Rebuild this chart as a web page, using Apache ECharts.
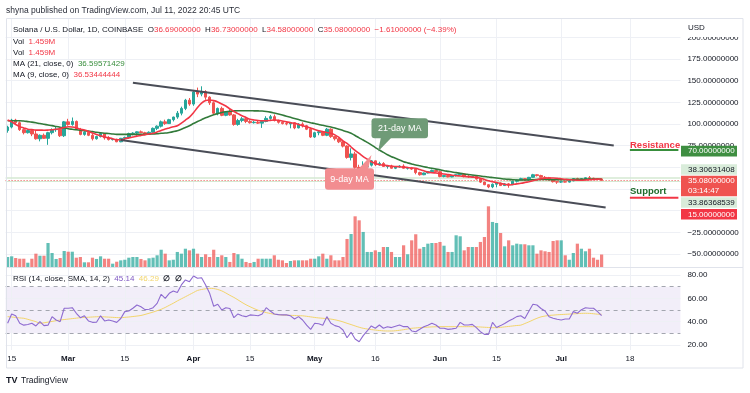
<!DOCTYPE html>
<html><head><meta charset="utf-8">
<script src="https://cdn.jsdelivr.net/npm/echarts@6/dist/echarts.min.js"></script>
<style>html,body{margin:0;padding:0;background:#fff}#c{width:750px;height:393px}</style>
</head><body><div id="c"></div>
<script>
// ---------- data ----------
const firstDay = [2022, 1, 14];   // Feb 14 2022 (month is 0-based)
const dayCount = 167;             // visible days incl. empty right margin
// [open, high, low, close]
const candles = [
[92.5,98,90,96.5],[96.5,106,95,104.5],[104.5,106,99,101.5],[101.5,103,92,93.5],[93.5,95,88,90],
[90,93.5,89,92.5],[92.5,93,86,88.5],[88.5,93,82,83],[83,88,80,87],[87,89,83,83.5],
[83.5,91,76,90],[90,95,88,93.5],[93.5,97,91,94],[94,96,85,86.5],[86.5,103.5,85,102.5],
[102.5,106,98,99.5],[99.5,107.5,98,103],[103,104,93,94],[94,95.5,87,88],[88,91.5,86.5,90.5],
[90.5,91,86,87],[87,89,81,83],[83,86.5,82,85.5],[85.5,90,84.5,89],[89,89.5,82,84],
[84,86,81,82],[82,83.5,81,82.5],[82.5,83,79,79.5],[79.5,84,79,83.5],[83.5,85.5,81.5,84.5],
[84.5,90,83,89],[89,90.5,87,89.5],[89.5,91.5,86.5,91],[91,92.5,89.5,90],[90,91,87.5,88.5],
[88.5,91.5,88,90.5],[90.5,96,90,95],[95,98.5,93,97.5],[97.5,104,96,102.5],[102.5,105,99,100.5],
[100.5,106,100,105],[105,108.5,103,108],[108,115,106,112.5],[112.5,120,110,118],[118,129,116,127.5],
[127.5,130,121,123],[123,138,121,137],[137,142,131,134.5],[134.5,143.5,132,137.5],[137.5,139,128,131],
[131,132,122,124.5],[124.5,126,111,112.5],[112.5,119,110,118],[118,120,109,110],[110,115,109,114],
[114,117,109.5,110.5],[110.5,111.5,98,99.5],[99.5,106,98,104],[104,108,102,106],[106,108.5,101,103],
[103,104.5,100.5,101.5],[101.5,103.5,100.5,102],[102,104,100,101],[101,104.5,95.5,103],[103,109,102,106.5],
[106.5,110.5,105,108.5],[108.5,111,103,104],[104,105,100.5,102],[102,103,99.5,100.5],[100.5,102,98.5,100],
[100,102.5,95,101.5],[101.5,102,94,95.5],[95.5,101,95,100],[100,102,96,98],[98,99,93,94],
[94,96,84,85],[85,91,84,90],[90,92,87,91],[91,92,86,87],[87,95.5,86,94],
[94,95,84,85.5],[85.5,86.5,81,83],[83,84,78,79.5],[79.5,80,73,74.5],[74.5,75.5,60,61.5],
[61.5,72,58,65.5],[65.5,68,46,50],[50,53,38,45.5],[45.5,57,44,50.5],[50.5,55,47,52.5],
[52.5,58.5,51,57.5],[57.5,58,51.5,53],[53,56.5,52,54.5],[54.5,56,50.5,51],[51,52.5,48.5,51.5],
[51.5,53,48.5,49],[49,51.5,48,50.5],[50.5,52.5,49.5,51.5],[51.5,53.5,48.5,49],[49,50.5,47.5,49.5],
[49.5,50.5,47,48],[48,48.5,42,44],[44,45,40.5,41.5],[41.5,44,41,43.5],[43.5,45.5,43,45],
[45,47.5,44.5,46.5],[46.5,47,44,45],[45,46.5,38.5,39.5],[39.5,41,38.5,40.5],[40.5,41,38.5,39],
[39,41,38.5,40.5],[40.5,42,39.5,41.5],[41.5,43.5,40.5,42.5],[42.5,43,38.5,40],[40,41,38,39],
[39,40.5,38.5,39.5],[39.5,40,36,36.5],[36.5,37.5,32,33],[33,33.5,29.5,30],[30,30.5,26,27.5],
[27.5,31.5,26,30.5],[30.5,33,27,32],[32,32.5,28.5,29],[29,32,28.5,31],[31,32,26.5,30],
[30,34.5,29.5,34],[34,36,32.5,35.5],[35.5,38,35,37],[37,37.5,34.5,35.5],[35.5,39,35,38.5],
[38.5,42.5,38,41.5],[41.5,42,39.5,40.5],[40.5,41.5,38,38.5],[38.5,40,37.5,38],[38,39,35,35.5],
[35.5,36,32.5,33.5],[33.5,34.5,31,33],[33,34.5,32,33.5],[33.5,34,32.5,33],[33,35,32.5,34.5],
[34.5,37.5,34,37],[37,38,34.5,36],[36,37.5,35,37],[37,38.5,36,38],[38,40,36.5,37.5],
[37.5,38,36.5,37],[37,37.5,36,36.69],[36.69,36.73,34.58,35.08]
];
// volume, millions
const volume = [
1.17,1.25,1.05,0.97,0.97,0.5,0.97,1.56,1.32,1.32,
2.81,1.64,0.94,1.05,1.87,1.79,1.79,1.09,1.17,0.55,
0.55,1.09,0.94,1.25,0.97,0.97,0.39,0.62,0.78,0.85,
1.09,1.17,1.17,0.94,0.78,1.02,1.09,1.37,2.02,1.56,
0.78,0.85,1.76,1.56,2.14,1.95,2.14,1.56,1.17,1.49,
1.17,2.02,1.17,1.37,1.17,0.59,1.64,1.49,0.97,0.59,
0.47,0.59,0.97,0.97,0.97,0.97,1.37,0.85,0.78,0.47,
0.7,0.78,0.78,0.78,0.78,0.97,0.97,1.25,1.56,0.97,
1.37,0.78,0.78,1.17,3.28,3.86,5.93,5.46,4.1,1.76,
1.76,1.95,1.76,2.34,2.34,1.76,1.17,1.17,2.54,1.49,
3.12,3.83,2.14,2.34,2.73,2.81,2.81,2.93,2.49,1.76,
1.76,3.71,3.59,1.95,2.34,2.34,2.34,2.93,3.51,7.1,
5.27,5.15,3.98,2.42,3.12,2.54,2.73,2.66,2.66,2.54,
2.54,1.56,1.95,1.84,1.76,3.04,3.12,3.12,1.37,0.85,
1.64,2.73,2.14,1.84,2.14,1.09,0.85,1.459
];
const ma21 = [
103.8,103.8,103.8,103.8,103.4,102.8,102.2,101.4,100.5,99.7,
98.9,98.1,97.2,96.3,95.3,94.5,93.9,93.3,92.8,92.4,
91.8,91.2,90.5,89.9,89.4,89,88.5,88.1,88,88,
88,88,88,88,88.1,88.2,88.5,88.8,89.3,89.6,
90.3,91.2,92.3,94,96,98,100.5,102.8,105,107.2,
109,110.6,112,113.2,114.1,114.7,115.1,115.3,115.3,115.3,
115.3,115.2,115.1,115,114.5,113.7,112.6,111.5,110.3,109,
107.7,106.4,105.1,103.8,102.6,101.5,100.5,99.4,98.5,97.5,
96.5,95.3,94,92.5,91,89.3,86.7,84,81.6,78.8,
76,72.8,70,67.3,64.6,62.3,60.5,58.5,56.5,55.2,
54,52.8,51.8,50.8,49.8,48.9,48,47.2,46.2,45.4,
44.6,43.9,43.2,42.4,41.8,41.2,40.6,40,39.4,38.9,
38.3,37.7,37.1,36.5,36.1,35.8,35.5,35.4,35.4,35.5,
35.7,35.9,36,36,35.9,35.8,35.7,35.7,35.8,35.9,
36.1,36.2,36.3,36.4,36.5,36.5,36.6,36.6
];
const ma9 = [
104.6,102.5,99.5,97,95.5,94,93.5,93,93,92.8,
93,93.3,93.9,94.8,96,96.9,96.5,95.5,94,93,
91.5,89.5,87.8,86.5,85,84,83,81.8,81.8,83,
84,85,86,86.8,87.7,88.5,89.3,90.8,92.5,94.2,
95.5,96.8,98,101,104.5,108,113,119,124,127,
127.7,127,125.5,123,120.7,117.5,114.5,112,109.5,107.5,
105.4,104.6,104,103.8,103.8,104.2,104.6,104.3,103.5,102.5,
101.5,100.8,99.5,98,96.9,95.3,93.7,92.3,91.2,90.2,
89.3,87.5,84.5,80.5,77.7,73.5,69.5,66.2,62.5,59.5,
56.5,54.5,53,52.7,52,51.5,51,50.7,50.3,49.8,
49.3,48.9,47.5,46,44.5,43.8,43.5,43,42.3,41.7,
41,40.4,40,39.5,39.2,38.8,38.5,37.5,36,34.5,
33.5,32.5,31.5,30.5,29.6,30.3,31,31.6,32.5,33.5,
34.6,35.8,36.8,37.5,37.8,37.8,37.4,36.8,36.2,35.7,
35.4,35.2,35.2,35.4,35.8,36.1,36.4,36.53
];
const rsi = [
38.6,46.6,45,38.6,37,37.5,38.6,36.3,40,36.6,
37,44.3,41.4,40,51.5,51.5,52,47.2,43.4,45,
40.6,39.4,39.5,45,40.6,41.4,40.5,39.4,42.7,48.6,
49.1,51.5,54.3,52.8,50.3,50.7,52,55.7,63.5,60,
64.3,66.3,65,71.5,75.8,74.3,79.2,77.2,77.7,71.5,
64.3,53.2,54.9,50,52,51.3,43.4,46.6,45,44.3,
45.8,45.5,45,46.6,52,49.1,46.6,46,45.8,45.8,
45,42.3,44.3,41.4,37,33.4,38.6,38.2,37,44.3,
38.6,36.6,35.7,32.8,26.2,30.9,25.1,22.8,28,32,
36.3,34.3,37.1,34.3,35.7,34.9,36,37.1,35.7,35.7,
32,31.4,33.5,35.7,37,38.6,37.1,34.3,34.3,33.4,
33.8,34.3,39.4,37.1,37.1,37.7,34.9,31.4,29.1,29.1,
39.4,35,36.6,38.5,40.5,42.3,44.3,45,42.7,49,
54.9,54.3,51.3,49.1,44.3,43,42,41.4,42.3,42.3,
48.6,47.2,50.3,52,51.5,51.5,48.6,45.14
];
const rsiMa = [
44.3,44,43.6,43.2,42.9,42,41,40,38.6,39,
39.6,40.2,40.8,41.4,41.8,42.2,42.6,43,43.4,43.6,
43.8,44,44.2,44.3,44.1,43.9,43.7,43.5,43.4,43.7,
44,44.4,44.8,45.3,46.2,47.2,48.2,49.4,50.6,52.2,
54,55.8,57.8,59.6,61.4,63.2,65,66.8,67.6,68.2,
68.6,68.4,67.6,66.4,64.6,62.6,60.8,58.7,56.5,54.5,
52.8,51.2,49.8,48.7,47.8,47,46.4,46,45.7,45.5,
45.4,45.3,45.1,45,44.6,44.1,43.6,43.2,42.9,42.6,
42.2,41.6,40.8,39.8,38.6,37.5,36.3,35.2,34.3,33.7,
33.2,32.8,32.4,32.1,32,32,32.2,32.6,33.1,33.7,
34.3,34.6,34.9,35.1,35.3,35.5,35.6,35.7,35.7,35.7,
35.7,35.7,35.7,35.7,35.7,35.7,35.6,35.4,35.2,35,
34.8,34.8,35.1,35.5,35.9,36.3,36.7,37,38.4,39.8,
41.4,42.9,44.1,44.8,45.3,45.6,45.9,46.1,46.3,46.5,
46.7,46.9,47.1,47.2,47.1,46.8,46.4,46.29
];
const tickDates  = ['2022-02-15','2022-03-01','2022-03-15','2022-04-01','2022-04-15','2022-05-01','2022-05-16','2022-06-01','2022-06-15','2022-07-01','2022-07-18'];
const tickLabels = ['15','Mar','15','Apr','15','May','16','Jun','15','Jul','18'];
const priceGridTicks = [-50,-25,0,25,50,75,100,125,150,175,200];
const priceLabelTicks = [-50,-25,75,100,125,150,175,200];
const rsiTicks = [20,40,60,80];
const rsiLevels = [30,50,70];
const channelUpper = [['2022-03-17',147.6],['2022-07-14',75.1]];
const channelLower = [['2022-03-14',81.6],['2022-07-12',3.8]];
const resistanceLine = [['2022-07-18',70],['2022-07-30',70]];
const supportLine = [['2022-07-18',15],['2022-07-30',15]];
const lastPrice = 35.08;
const bandHigh = 38.30631408, bandLow = 33.86368539;

// ---------- chart ----------
const FONT = '"Liberation Sans", Arial, sans-serif';
const UP = '#26a69a', DOWN = '#ef5350';
const TXT = '#131722';
const dates = [];
for (let i = 0; i < dayCount; i++) {
  const d = new Date(Date.UTC(firstDay[0], firstDay[1], firstDay[2] + i));
  dates.push(d.toISOString().slice(0, 10));
}
const kData = candles.map(c => [c[0], c[3], c[2], c[1]]);
const volData = volume.map((v, i) => ({
  value: v,
  itemStyle: { color: candles[i][3] >= candles[i][0] ? 'rgba(38,166,154,0.72)' : 'rgba(239,83,80,0.72)' }
}));
const nulls = candles.map(() => null);
const minus = s => s.replace('-', '\u2212');
const gridLineStyle = { color: '#eef0f5', width: 1, type: 'solid' };

function txt(x, y, text, st) {
  return { type: 'text', x: x, y: y, z: 100, silent: true,
    style: Object.assign({ text: text, fill: TXT, fontSize: 8, fontFamily: FONT, verticalAlign: 'middle', align: 'left' }, st || {}) };
}
function rich(x, y, text, richMap) {
  return { type: 'text', x: x, y: y, z: 100, silent: true,
    style: { text: text, fontSize: 8, fontFamily: FONT, verticalAlign: 'middle', align: 'left', rich: richMap } };
}
const rs = c => ({ fill: c, fontSize: 8, fontFamily: FONT });
function marker(y, h, bg, fg, lines) {
  const els = [{ type: 'rect', z: 90, silent: true, shape: { x: 681, y: y, width: 56, height: h }, style: { fill: bg } }];
  lines.forEach((t, k) => els.push(txt(688, y + 5.3 + k * 10, t, { fill: fg })));
  return els;
}

const graphics = [].concat(
  [
    { type: 'rect', z: 60, silent: true, shape: { x: 682, y: 19, width: 60, height: 18 }, style: { fill: '#fff' } },
    { type: 'rect', z: 95, silent: true, shape: { x: 6.5, y: 18.5, width: 736.5, height: 349.5 }, style: { fill: 'none', stroke: '#e0e3eb', lineWidth: 1 } },
    { type: 'line', z: 95, silent: true, shape: { x1: 6, y1: 267.5, x2: 743, y2: 267.5 }, style: { stroke: '#e0e3eb', lineWidth: 1 } },
    txt(6, 11, 'shyna published on TradingView.com, Jul 11, 2022 20:45 UTC', { fontSize: 8.5, fill: '#2a2e39' }),
    txt(688, 28, 'USD', { fontSize: 8 }),
    rich(13, 29.5, '{t|Solana / U.S. Dollar, 1D, COINBASE  O}{r|36.69000000}{t|  H}{r|36.73000000}{t|  L}{r|34.58000000}{t|  C}{r|35.08000000}{r|  \u22121.61000000 (\u22124.39%)}', { t: rs(TXT), r: rs('#f23645') }),
    rich(13, 41.5, '{t|Vol  }{r|1.459M}', { t: rs(TXT), r: rs('#f23645') }),
    rich(13, 52.5, '{t|Vol  }{r|1.459M}', { t: rs(TXT), r: rs('#f23645') }),
    rich(13, 63.5, '{t|MA (21, close, 0)  }{g|36.59571429}', { t: rs(TXT), g: rs('#388e3c') }),
    rich(13, 75, '{t|MA (9, close, 0)  }{r|36.53444444}', { t: rs(TXT), r: rs('#f23645') }),
    rich(13, 278.5, '{t|RSI (14, close, SMA, 14, 2)  }{p|45.14}{t|  }{y|46.29}{t|  }{b|\u2205  \u2205}', { t: rs(TXT), p: rs('#7e57c2'), y: rs('#f2d56b'), b: { fill: TXT, fontSize: 8, fontWeight: 'bold', fontFamily: FONT } }),
    txt(630, 145, 'Resistance', { fill: '#f23645', fontSize: 9.5, fontWeight: 'bold' }),
    txt(630, 191.5, 'Support', { fill: '#1e6b2a', fontSize: 9.5, fontWeight: 'bold' }),
    // callouts
    { type: 'polygon', z: 80, silent: true, shape: { points: [[381, 137], [392, 137], [378, 151.5]] }, style: { fill: '#6f9b77' } },
    { type: 'rect', z: 80, silent: true, shape: { x: 371.5, y: 118.3, width: 56.5, height: 20, r: 3 }, style: { fill: '#6f9b77' } },
    txt(399.7, 128.5, '21-day MA', { fill: '#fff', fontSize: 9, align: 'center' }),
    { type: 'polygon', z: 80, silent: true, shape: { points: [[358, 169.5], [368, 169.5], [371.5, 155]] }, style: { fill: '#f28d90' } },
    { type: 'rect', z: 80, silent: true, shape: { x: 325, y: 168.3, width: 49, height: 21.5, r: 3 }, style: { fill: '#f28d90' } },
    txt(349.5, 179.3, '9-day MA', { fill: '#fff', fontSize: 9, align: 'center' }),
    txt(6, 381, 'TV', { fontSize: 9, fontWeight: 'bold', fill: TXT }),
    txt(21, 381, 'TradingView', { fontSize: 8.5, fill: TXT })
  ],
  marker(145.7, 10.8, '#3e8e41', '#fff', ['70.00000000']),
  marker(164.3, 10.5, '#d9ecda', TXT, ['38.30631408']),
  marker(175.8, 20.5, '#ef5350', '#fff', ['35.08000000', '03:14:47']),
  marker(197.3, 10.5, '#d9ecda', TXT, ['33.86368539']),
  marker(209, 10.5, '#f23645', '#fff', ['15.00000000'])
);

const option = {
  animation: false,
  backgroundColor: '#fff',
  textStyle: { fontFamily: FONT },
  grid: [
    { left: 5.6, top: 18, width: 674.8, height: 249 },
    { left: 5.6, top: 267.5, width: 674.8, height: 82.5 }
  ],
  xAxis: [
    { type: 'category', gridIndex: 0, data: dates, boundaryGap: true,
      axisLine: { show: false }, axisTick: { show: false }, axisLabel: { show: false }, splitLine: { show: false } },
    { type: 'category', gridIndex: 1, data: dates, boundaryGap: true,
      axisLine: { show: false }, axisTick: { show: false }, splitLine: { show: false },
      axisLabel: { show: true, margin: 5, color: TXT, fontSize: 8, fontFamily: FONT, hideOverlap: false,
        interval: (idx, val) => tickDates.indexOf(val) >= 0,
        formatter: val => { const t = tickLabels[tickDates.indexOf(val)]; return /^\d+$/.test(t) ? t : '{b|' + t + '}'; },
        rich: { b: { fontWeight: 'bold', fontSize: 8, color: TXT, fontFamily: FONT } } } }
  ],
  yAxis: [
    { type: 'value', gridIndex: 0, position: 'right', min: -64.9, max: 222.26, scale: true,
      axisLine: { show: false }, axisTick: { show: false }, splitLine: { show: false },
      axisLabel: { customValues: priceLabelTicks, formatter: v => minus(v.toFixed(8)), color: TXT, fontSize: 8, fontFamily: FONT, margin: 7 } },
    { type: 'value', gridIndex: 0, min: 0, max: 29.13, show: false },
    { type: 'value', gridIndex: 1, position: 'right', min: 15.67, max: 86.48, scale: true,
      axisLine: { show: false }, axisTick: { show: false }, splitLine: { show: false },
      axisLabel: { customValues: rsiTicks, formatter: v => v.toFixed(2), color: TXT, fontSize: 8, fontFamily: FONT, margin: 7 } }
  ],
  series: [
    { name: 'grid0', type: 'line', xAxisIndex: 0, yAxisIndex: 0, data: nulls, symbol: 'none', silent: true, z: 0,
      markLine: { z: 0, silent: true, symbol: ['none', 'none'], label: { show: false }, lineStyle: gridLineStyle, animation: false,
        data: priceGridTicks.map(v => ({ yAxis: v })).concat(tickDates.map(d => ({ xAxis: d }))) } },
    { name: 'volume', type: 'bar', xAxisIndex: 0, yAxisIndex: 1, data: volData, barWidth: 3.2, z: 1, silent: true },
    { name: 'price', type: 'candlestick', xAxisIndex: 0, yAxisIndex: 0, data: kData, barWidth: 3, z: 2, silent: true,
      itemStyle: { color: UP, color0: DOWN, borderColor: UP, borderColor0: DOWN, borderWidth: 1 },
      markLine: { z: 1, silent: true, symbol: ['none', 'none'], label: { show: false }, animation: false,
        data: [
          { yAxis: bandHigh, lineStyle: { color: '#d5e9d2', width: 1.5, type: 'solid' } },
          { yAxis: bandLow, lineStyle: { color: '#d5e9d2', width: 1, type: 'solid' } },
          { yAxis: lastPrice, lineStyle: { color: '#ef5350', width: 1, type: [1, 2] } }
        ] } },
    { name: 'MA21', type: 'line', xAxisIndex: 0, yAxisIndex: 0, data: ma21, symbol: 'none', smooth: 0.3, z: 3, silent: true,
      lineStyle: { color: '#327a3a', width: 1.6 } },
    { name: 'MA9', type: 'line', xAxisIndex: 0, yAxisIndex: 0, data: ma9, symbol: 'none', smooth: 0.3, z: 3, silent: true,
      lineStyle: { color: '#f23645', width: 1.6 } },
    { name: 'upper', type: 'line', xAxisIndex: 0, yAxisIndex: 0, data: channelUpper, symbol: 'none', z: 4, silent: true,
      lineStyle: { color: '#4a4d57', width: 2 } },
    { name: 'lower', type: 'line', xAxisIndex: 0, yAxisIndex: 0, data: channelLower, symbol: 'none', z: 4, silent: true,
      lineStyle: { color: '#4a4d57', width: 2 } },
    { name: 'resistance', type: 'line', xAxisIndex: 0, yAxisIndex: 0, data: resistanceLine, symbol: 'none', z: 4, silent: true,
      lineStyle: { color: '#388e3c', width: 2 } },
    { name: 'support', type: 'line', xAxisIndex: 0, yAxisIndex: 0, data: supportLine, symbol: 'none', z: 4, silent: true,
      lineStyle: { color: '#f23645', width: 2 } },
    { name: 'grid1', type: 'line', xAxisIndex: 1, yAxisIndex: 2, data: nulls, symbol: 'none', silent: true, z: 0,
      markArea: { z: 0, silent: true, itemStyle: { color: 'rgba(126,87,194,0.1)' }, data: [[{ yAxis: rsiLevels[0] }, { yAxis: rsiLevels[2] }]] },
      markLine: { z: 0, silent: true, symbol: ['none', 'none'], label: { show: false }, animation: false,
        data: rsiTicks.map(v => ({ yAxis: v, lineStyle: gridLineStyle }))
          .concat(tickDates.map(d => ({ xAxis: d, lineStyle: gridLineStyle })))
          .concat(rsiLevels.map(v => ({ yAxis: v, lineStyle: { color: '#a3a6af', width: 1, type: [4, 4] } }))) } },
    { name: 'RSI-MA', type: 'line', xAxisIndex: 1, yAxisIndex: 2, data: rsiMa, symbol: 'none', smooth: 0.3, z: 3, silent: true,
      lineStyle: { color: '#f2d56b', width: 1 } },
    { name: 'RSI', type: 'line', xAxisIndex: 1, yAxisIndex: 2, data: rsi, symbol: 'none', z: 4, silent: true,
      lineStyle: { color: '#8e6bd0', width: 1.1 } }
  ],
  graphic: graphics
};
const chart = echarts.init(document.getElementById('c'), null, { renderer: 'canvas' });
chart.setOption(option);
</script>
</body></html>
